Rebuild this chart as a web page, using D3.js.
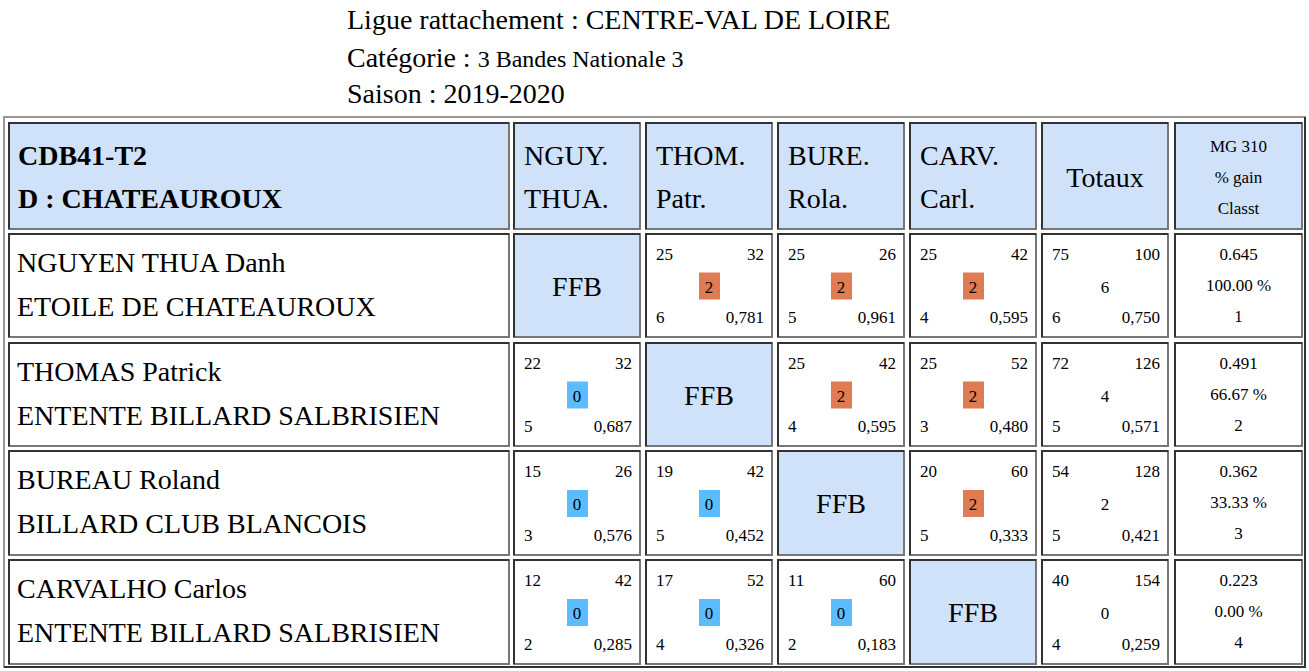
<!DOCTYPE html><html><head><meta charset="utf-8">
<script src="https://cdn.jsdelivr.net/npm/d3@7"></script>
<style>body{margin:0;background:#fff}svg text{font-family:'Liberation Serif','Times New Roman',Tinos,'DejaVu Serif',serif}</style></head><body>
<script>
const titles=[["Ligue rattachement : CENTRE-VAL DE LOIRE",28],["Catégorie : ","3 Bandes Nationale 3"],["Saison : 2019-2020",28]];
const headerTeam=["CDB41-T2","D : CHATEAUROUX"];
const colHeads=[["NGUY.","THUA."],["THOM.","Patr."],["BURE.","Rola."],["CARV.","Carl."]];
const players=[["NGUYEN THUA Danh","ETOILE DE CHATEAUROUX"],["THOMAS Patrick","ENTENTE BILLARD SALBRISIEN"],["BUREAU Roland","BILLARD CLUB BLANCOIS"],["CARVALHO Carlos","ENTENTE BILLARD SALBRISIEN"]];
// match cells: [points, distance, result, innings, average] ; null = FFB
const matches=[
 [null,[25,32,2,6,"0,781"],[25,26,2,5,"0,961"],[25,42,2,4,"0,595"]],
 [[22,32,0,5,"0,687"],null,[25,42,2,4,"0,595"],[25,52,2,3,"0,480"]],
 [[15,26,0,3,"0,576"],[19,42,0,5,"0,452"],null,[20,60,2,5,"0,333"]],
 [[12,42,0,2,"0,285"],[17,52,0,4,"0,326"],[11,60,0,2,"0,183"],null]];
const totals=[[75,100,6,6,"0,750"],[72,126,4,5,"0,571"],[54,128,2,5,"0,421"],[40,154,0,4,"0,259"]];
const mg=[["0.645","100.00 %","1"],["0.491","66.67 %","2"],["0.362","33.33 %","3"],["0.223","0.00 %","4"]];

const FONT="'Liberation Serif','Times New Roman',Tinos,'DejaVu Serif',serif";
const svg=d3.select("body").append("svg").attr("width",1309).attr("height",671).attr("font-family",FONT);
const colX=[9,514,646,778,910,1042,1175], colW=[500,126,126,126,126,126,127];
const rowY=[123,234,343,451,560], rowH=[106,103,103,104,104];
const BLUE="#cfe2f9";
function txt(x,y,s,size,anchor,bold){return svg.append("text").attr("x",x).attr("y",y).attr("font-family",FONT).attr("font-size",size).attr("text-anchor",anchor||"start").attr("font-weight",bold?"bold":null).attr("fill","#000").text(s);}
txt(347,29,titles[0][0],28);
const t2=txt(347,67,titles[1][0],28);
t2.append("tspan").attr("font-size",24).text(titles[1][1]);
txt(347,103,titles[2][0],28);
svg.append("rect").attr("x",4).attr("y",117).attr("width",1301).attr("height",550).attr("fill","none").attr("stroke","#999").attr("stroke-width",2);
svg.append("path").attr("d","M1305,117V667H4").attr("fill","none").attr("stroke","#333").attr("stroke-width",2);
function cell(c,r,fill){
 const x=colX[c],y=rowY[r],w=colW[c],h=rowH[r];
 svg.append("rect").attr("x",x).attr("y",y).attr("width",w).attr("height",h).attr("fill",fill||"#fff").attr("stroke","#777").attr("stroke-width",2);
 svg.append("path").attr("d",`M${x},${y+h}V${y}H${x+w}`).attr("fill","none").attr("stroke","#333").attr("stroke-width",2);
 return {x,y,w,h};
}
let b=cell(0,0,BLUE);txt(b.x+9,b.y+42,headerTeam[0],28,"start",true);txt(b.x+9,b.y+85,headerTeam[1],28,"start",true);
colHeads.forEach((h,i)=>{b=cell(i+1,0,BLUE);txt(b.x+10,b.y+42,h[0],28);txt(b.x+10,b.y+85,h[1],28);});
b=cell(5,0,BLUE);txt(b.x+b.w/2,b.y+64,"Totaux",28,"middle");
b=cell(6,0,BLUE);["MG 310","% gain","Classt"].forEach((s,k)=>txt(b.x+b.w/2,b.y+29+k*31,s,17,"middle"));
function corners(b,d){
 txt(b.x+10,b.y+26,d[0],17);txt(b.x+b.w-8,b.y+26,d[1],17,"end");
 txt(b.x+10,b.y+b.h-14,d[3],17);txt(b.x+b.w-8,b.y+b.h-14,d[4],17,"end");
}
players.forEach((p,r)=>{
 b=cell(0,r+1);txt(b.x+8,b.y+38,p[0],28);txt(b.x+8,b.y+82,p[1],28);
 matches[r].forEach((m,c)=>{
  if(m===null){b=cell(c+1,r+1,BLUE);txt(b.x+b.w/2,b.y+b.h/2+10,"FFB",28,"middle");}
  else{b=cell(c+1,r+1);corners(b,m);
   const cx=b.x+b.w/2,cy=b.y+b.h/2;
   svg.append("rect").attr("x",cx-10).attr("y",cy-13).attr("width",21).attr("height",27).attr("fill",m[2]===2?"#e07b54":"#5bbcff");
   txt(cx,cy+7,m[2],17,"middle");}
 });
 b=cell(5,r+1);corners(b,totals[r]);txt(b.x+b.w/2,b.y+b.h/2+7,totals[r][2],17,"middle");
 b=cell(6,r+1);mg[r].forEach((s,k)=>txt(b.x+b.w/2,b.y+26+k*31,s,17,"middle"));
});
</script></body></html>
